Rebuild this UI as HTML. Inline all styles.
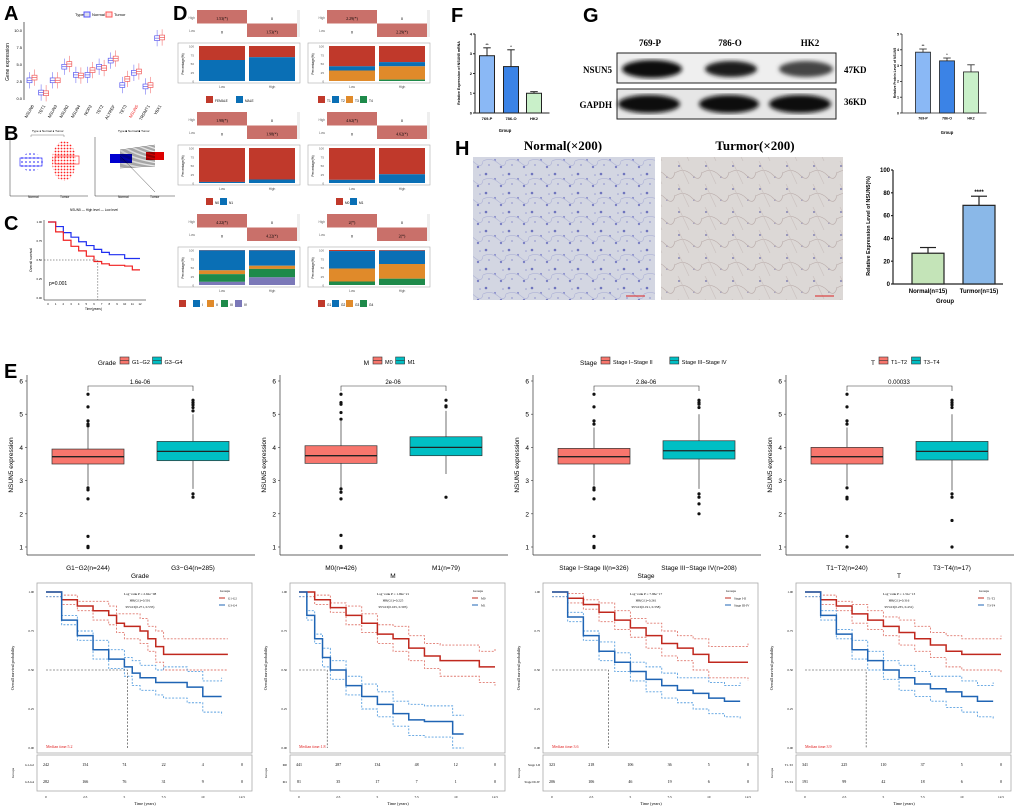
<!DOCTYPE html>
<html><head><meta charset="utf-8">
<style>
html,body{margin:0;padding:0;background:#fff;}
svg{display:block;font-family:"Liberation Sans",sans-serif;}
.serif{font-family:"Liberation Serif",serif;}
</style></head>
<body>
<svg id="fig" width="1020" height="810" viewBox="0 0 1020 810" xmlns="http://www.w3.org/2000/svg">
<defs>
<filter id="blur1"><feGaussianBlur stdDeviation="2.2"/></filter>
<pattern id="normTex" width="23" height="19" patternUnits="userSpaceOnUse">
<rect width="23" height="19" fill="#d3d6e2"/>
<circle cx="3" cy="3" r="1.3" fill="#6f74bd"/><circle cx="12" cy="8" r="1.1" fill="#8a8fcc"/>
<circle cx="18" cy="15" r="1.2" fill="#7b80c4"/><circle cx="6" cy="13" r="0.9" fill="#9a9ed2"/>
<circle cx="20" cy="4" r="0.8" fill="#9a9ed2"/>
<path d="M0 9 Q8 5 15 11 T23 9" stroke="#b4b8d8" fill="none" stroke-width="0.8"/>
</pattern>
<pattern id="tumTex" width="27" height="23" patternUnits="userSpaceOnUse">
<rect width="27" height="23" fill="#dcd8d6"/>
<circle cx="4" cy="5" r="0.9" fill="#6a6aaa"/><circle cx="19" cy="16" r="0.8" fill="#7070b0"/>
<path d="M0 12 Q9 6 17 14 T27 11" stroke="#bdb0ae" fill="none" stroke-width="0.7"/>
<path d="M3 0 Q8 10 14 23" stroke="#cbc2c0" fill="none" stroke-width="0.7"/>
</pattern>
<pattern id="dotsBlue" width="4" height="4" patternUnits="userSpaceOnUse"><circle cx="2" cy="2" r="0.9" fill="#4a4af5"/></pattern>
<pattern id="dotsRed" width="3" height="3" patternUnits="userSpaceOnUse"><circle cx="1.5" cy="1.5" r="0.9" fill="#f22"/></pattern>
</defs>
<g id="panelA"></g>
<g id="panelB"></g>
<g id="panelC"></g>
<g id="panelD"></g>
<g id="panelF"></g>
<g id="panelG">
 <text x="583" y="22" font-size="20" font-weight="bold">G</text>
 <g class="serif" font-weight="bold" font-size="9">
 <text x="650" y="46" text-anchor="middle">769-P</text>
 <text x="730" y="46" text-anchor="middle">786-O</text>
 <text x="810" y="46" text-anchor="middle">HK2</text>
 <text x="612" y="73" text-anchor="end">NSUN5</text>
 <text x="612" y="108" text-anchor="end">GAPDH</text>
 <text x="844" y="73">47KD</text>
 <text x="844" y="105">36KD</text>
 </g>
 <rect x="617" y="53" width="219" height="30" fill="#efefef" stroke="#222"/>
 <g filter="url(#blur1)">
 <ellipse cx="652" cy="69" rx="30" ry="9" fill="#111"/><ellipse cx="731" cy="69" rx="26" ry="8" fill="#1a1a1a"/><ellipse cx="806" cy="69" rx="27" ry="8" fill="#444"/>
 <ellipse cx="652" cy="89" rx="0" ry="0" fill="#000"/>
 </g>
 <rect x="617" y="89" width="219" height="30" fill="#e6e6e6" stroke="#222"/>
 <g filter="url(#blur1)">
 <ellipse cx="649" cy="104" rx="31" ry="9" fill="#0a0a0a"/><ellipse cx="729" cy="104" rx="30" ry="9" fill="#0a0a0a"/><ellipse cx="800" cy="104" rx="31" ry="9" fill="#0a0a0a"/>
 </g>
</g>
<g id="panelH">
 <text x="455" y="155" font-size="20" font-weight="bold">H</text>
 <text x="563" y="150" class="serif" font-size="13" font-weight="bold" text-anchor="middle">Normal(×200)</text>
 <text x="755" y="150" class="serif" font-size="13" font-weight="bold" text-anchor="middle">Turmor(×200)</text>
 <rect x="473" y="157" width="182" height="143" fill="url(#normTex)"/>
 <rect x="661" y="157" width="182" height="143" fill="url(#tumTex)"/>
 <line x1="626" y1="296" x2="645" y2="296" stroke="#d22"/>
 <line x1="815" y1="296" x2="834" y2="296" stroke="#d22"/>
</g>
<g id="panelE">
 <text x="4" y="378" font-size="20" font-weight="bold">E</text>
</g>
<g id="panelKM"></g>
</svg>
<script>
// ---------- DATA ----------
const aGenes=["NSUN6","TET1","NSUN3","NSUN2","NSUN4","NOP2","TET2","ALYREF","TET3","NSUN5","TRDMT1","YBX1"];
const aNormal=[2.6,0.8,2.6,4.6,3.4,3.4,4.6,5.5,1.9,3.7,1.7,8.8];
const aTumor=[3.0,0.7,2.6,5.0,3.3,4.1,4.4,5.8,2.8,3.9,1.9,8.9];
const dTitles=[["FEMALE","MALE"],["T1","T2","T3","T4"],["N0","N1"],["M0","M1"],["","I","II","III","IV"],["G1","G2","G3","G4"]];
const dColors=[["#c0392b","#0a6fb5"],["#c0392b","#0a6fb5","#e08a2a","#1e8a4a"],["#c0392b","#0a6fb5"],["#c0392b","#0a6fb5"],["#c0392b","#0a6fb5","#e08a2a","#1e8a4a","#7b78b8"],["#c0392b","#0a6fb5","#e08a2a","#1e8a4a"]];
const dLow=[[40,60],[58,12,30,0],[97,3],[91,9],[1,57,11,22,9],[3,50,37,10]];
const dHigh=[[32,68],[46,12,38,4],[90,10],[75,25],[1,44,9,24,22],[2,38,42,18]];
const dStat=["1.53(*)","2.29(*)","1.98(*)","4.62(*)","4.22(*)","2(*)"];
const fGroups=["769-P","786-O","HK2"], fValues=[2.9,2.35,1.0], fErr=[0.4,0.85,0.08];
const gGroups=["769-P","786-O","HK2"], gValues=[3.85,3.3,2.6], gErr=[0.2,0.18,0.45];
const hGroups=["Normal(n=15)","Turmor(n=15)"], hValues=[27,69], hErr=[5,8];
const cTimes=[0,1,2,3,4,5,6,7,8,9,10,11,12];
const cHigh=[1,0.87,0.76,0.68,0.62,0.55,0.48,0.45,0.43,0.43,0.42,0.37,0.37];
const cLow=[1,0.94,0.86,0.80,0.74,0.69,0.64,0.60,0.57,0.57,0.52,0.52,0.52];
const eTitles=["Grade","M","Stage","T"];
const eGroups=[["G1−G2","G3−G4"],["M0","M1"],["Stage I−Stage II","Stage III−Stage IV"],["T1−T2","T3−T4"]];
const eN=[[244,285],[426,79],[326,208],[240,17]];
const eStatsA=[[3.5,3.72,3.95,2.85,4.6],[3.52,3.75,4.05,2.8,4.8],[3.5,3.72,3.97,2.85,4.6],[3.5,3.72,4.0,2.85,4.6]];
const eStatsB=[[3.6,3.88,4.18,2.75,5.0],[3.75,4.0,4.32,3.2,5.1],[3.65,3.9,4.2,2.75,5.0],[3.62,3.88,4.18,2.7,5.0]];
const eOutA=[[5.6,5.22,4.8,4.7,4.65,2.78,2.72,2.45,1.32,1.02,0.98],[5.6,5.35,5.3,5.05,4.85,2.75,2.65,2.45,1.35,1.02,0.98],[5.6,5.22,4.8,4.7,2.78,2.72,2.45,1.32,1.02,0.98],[5.6,5.22,4.8,4.7,2.78,2.5,2.45,1.32,1.0]];
const eOutB=[[5.42,5.35,5.28,5.2,5.1,2.6,2.5],[5.42,5.25,5.22,2.5],[5.42,5.35,5.3,5.2,2.6,2.5,2.3,2.0],[5.42,5.35,5.28,5.2,2.6,2.5,1.8,1.0]];
const ePvals=["1.6e-06","2e-06","2.8e-06","0.00033"];
const kmNames=[["G1-G2","G3-G4"],["M0","M1"],["Stage I-II","Stage III-IV"],["T1-T2","T3-T4"]];
const kmTimesA=[[0,1,2,3,4,4.5,5,6,6.5,7,7.5,11.6],[0,1,2,3,4,5,6,7,8,9,10,11.5,12.5],[0,1,2,3,4,5,6,7,8,9,10,11.6,12.5],[0,1,2,3,4,5,6,7,8,9,10,11.6,12.5]];
const kmSurvA=[[1,0.95,0.91,0.88,0.85,0.80,0.78,0.75,0.70,0.65,0.60,0.60],[1,0.95,0.90,0.85,0.80,0.73,0.70,0.64,0.59,0.56,0.56,0.52,0.52],[1,0.96,0.92,0.87,0.82,0.77,0.72,0.67,0.64,0.60,0.55,0.55,0.55],[1,0.95,0.91,0.86,0.82,0.78,0.74,0.70,0.66,0.62,0.60,0.60,0.60]];
const kmTimesB=[[0,1,2,3,4,5,5.5,6,7,7.5,9,10,11.2],[0,0.5,1,1.5,2,3,4,5,6,7,8,9,9.8,10.5],[0,1,2,3,4,5,6,7,8,9,10,11,12],[0,1,2,3,4,5,6,7,8,9,10,11,12]];
const kmSurvB=[[1,0.82,0.72,0.63,0.57,0.52,0.48,0.45,0.42,0.42,0.39,0.33,0.33],[1,0.85,0.70,0.58,0.50,0.40,0.33,0.28,0.22,0.18,0.17,0.17,0.09,0.09],[1,0.84,0.72,0.62,0.55,0.49,0.44,0.40,0.37,0.35,0.32,0.30,0.30],[1,0.85,0.73,0.63,0.56,0.50,0.45,0.41,0.38,0.36,0.33,0.30,0.30]];
const kmCIWidth=[[0.03,0.06,0.08,0.10,0.12],[0.03,0.06,0.08,0.10,0.12],[0.03,0.06,0.08,0.10,0.12],[0.03,0.06,0.08,0.10,0.12]];
const kmRiskA=[[242,154,74,22,4,0],[441,287,134,48,12,0],[323,218,106,36,5,0],[341,225,110,37,5,0]];
const kmRiskB=[[282,166,76,31,9,0],[81,35,17,7,1,0],[206,106,46,19,6,0],[191,99,42,18,6,0]];
const kmStats=[["Log−rank P = 2.62e−08","HR(G1)=0.501","95%CI(0.271, 0.535)"],["Log−rank P = 1.69e−21","HR(G1)=0.225","95%CI(0.165, 0.305)"],["Log−rank P = 7.96e−17","HR(G1)=0.261","95%CI(0.191, 0.358)"],["Log−rank P = 1.31e−13","HR(G1)=0.316","95%CI(0.235, 0.431)"]];
const kmMedian=["5.2","1.8","3.6","3.9"];
const riskTicks=["0","2.5","5","7.5","10","12.5"];

// ---------- helpers ----------
const NS="http://www.w3.org/2000/svg";
function mk(tag,parent,attrs){const e=document.createElementNS(NS,tag);for(const k in attrs)e.setAttribute(k,attrs[k]);parent.appendChild(e);return e;}
function txt(parent,x,y,s,size,attrs){const e=mk("text",parent,Object.assign({x:x,y:y,"font-size":size},attrs||{}));e.textContent=s;return e;}
function lin(a,b,c,d){return v=>c+(v-a)*(d-c)/(b-a);}
function stepPath(ts,ss,sx,sy){let d="M"+sx(ts[0])+" "+sy(ss[0]);for(let i=1;i<ts.length;i++){d+=" H"+sx(ts[i])+" V"+sy(ss[i]);}return d;}

// ---------- Panel A ----------
(function(){
 const g=document.getElementById("panelA");
 txt(g,4,20,"A",20,{"font-weight":"bold"});
 const sx=i=>32+i*11.6, sy=lin(0,10,98,30);
 mk("line",g,{x1:24,y1:22,x2:24,y2:100,stroke:"#000","stroke-width":0.6});
 [0,2.5,5,7.5,10].forEach(v=>{txt(g,22,sy(v)+2,v.toFixed(1),4,{"text-anchor":"end"});});
 txt(g,9,62,"Gene expression",5,{transform:"rotate(-90 9 62)","text-anchor":"middle"});
 txt(g,75,16,"Type",4);
 mk("rect",g,{x:84,y:12,width:6,height:5,fill:"#dde",stroke:"#55f"});txt(g,92,16,"Normal",4);
 mk("rect",g,{x:106,y:12,width:6,height:5,fill:"#fdd",stroke:"#f55"});txt(g,114,16,"Tumor",4);
 aGenes.forEach((gn,i)=>{
  [[aNormal[i],"#5a5af0",-2.5],[aTumor[i],"#f05a5a",2.5]].forEach(([m,c,o])=>{
   mk("line",g,{x1:sx(i)+o,y1:sy(m+1.2),x2:sx(i)+o,y2:sy(m-1.2),stroke:c,"stroke-width":0.5});
   const b=mk("rect",g,{x:sx(i)+o-2.5,y:sy(m+0.35),width:5,height:sy(m-0.35)-sy(m+0.35),fill:"#fff",stroke:c,"stroke-width":0.7});
   
   
   mk("line",g,{x1:sx(i)+o-2.5,y1:sy(m),x2:sx(i)+o+2.5,y2:sy(m),stroke:c,"stroke-width":0.7});
  });
  txt(g,sx(i)+2,106,gn,4.2,{transform:"rotate(-60 "+(sx(i)+2)+" 106)","text-anchor":"end",fill:gn==="NSUN5"?"#e22":"#000"});
 });
})();

// ---------- Panel B ----------
(function(){
 const g=document.getElementById("panelB");
 txt(g,4,140,"B",20,{"font-weight":"bold"});
 // left scatter
 mk("line",g,{x1:10,y1:137,x2:10,y2:196,stroke:"#333","stroke-width":0.5});
 mk("line",g,{x1:10,y1:196,x2:88,y2:196,stroke:"#333","stroke-width":0.5});
 mk("ellipse",g,{cx:31,cy:162,rx:12,ry:9,fill:"url(#dotsBlue)"});
 mk("ellipse",g,{cx:64,cy:161,rx:12,ry:20,fill:"url(#dotsRed)"});
 mk("rect",g,{x:20,y:158,width:22,height:8,fill:"none",stroke:"#33f","stroke-width":0.7});
 mk("rect",g,{x:55,y:156,width:24,height:8,fill:"none",stroke:"#f33","stroke-width":0.7});
 mk("path",g,{d:"M31 137 V135 H64 V137",fill:"none",stroke:"#555","stroke-width":0.4});
 txt(g,28,198,"Normal",3.3);txt(g,60,198,"Tumor",3.3);
 txt(g,32,132,"Type ● Normal ● Tumor",3);
 // right paired
 mk("line",g,{x1:95,y1:137,x2:95,y2:196,stroke:"#333","stroke-width":0.5});
 mk("line",g,{x1:95,y1:196,x2:175,y2:196,stroke:"#333","stroke-width":0.5});
 mk("rect",g,{x:110,y:154,width:22,height:9,fill:"#0000d0"});
 mk("rect",g,{x:146,y:152,width:18,height:8,fill:"#d00"});
 for(let i=0;i<16;i++)mk("line",g,{x1:120,y1:150+i*1.2,x2:155,y2:145+i*1.4,stroke:"#000","stroke-width":0.35});
 mk("line",g,{x1:120,y1:156,x2:155,y2:192,stroke:"#000","stroke-width":0.35});
 txt(g,118,198,"Normal",3.3);txt(g,150,198,"Tumor",3.3);
 txt(g,118,132,"Type ■ Normal ■ Tumor",3);
})();

// ---------- Panel C ----------
(function(){
 const g=document.getElementById("panelC");
 txt(g,4,230,"C",20,{"font-weight":"bold"});
 const sx=lin(0,12,48,140), sy=lin(0,1,298,222);
 mk("line",g,{x1:44,y1:220,x2:44,y2:300,stroke:"#000","stroke-width":0.5});
 mk("line",g,{x1:44,y1:300,x2:146,y2:300,stroke:"#000","stroke-width":0.5});
 [0,0.25,0.5,0.75,1].forEach(v=>txt(g,42,sy(v)+1,v.toFixed(2),2.8,{"text-anchor":"end"}));
 for(let t=0;t<=12;t++)txt(g,sx(t),305,String(t),2.8,{"text-anchor":"middle"});
 txt(g,70,211,"NSUN5 — High level — Low level",3.2);
 const p1=mk("path",g,{d:stepPath(cTimes,cLow,sx,sy),fill:"none",stroke:"#1f2ff0","stroke-width":1.2});
 
 
 const p2=mk("path",g,{d:stepPath(cTimes,cHigh,sx,sy),fill:"none",stroke:"#f01f1f","stroke-width":1.2});
 
 
 mk("path",g,{d:"M44 "+sy(0.5)+" H"+sx(6.5)+" V300",fill:"none",stroke:"#333","stroke-dasharray":"1.5 1.5","stroke-width":0.5});
 txt(g,49,285,"p=0.001",5);
 txt(g,85,310,"Time(years)",3.2);
 txt(g,32,260,"Overall survival",3.5,{transform:"rotate(-90 32 260)","text-anchor":"middle"});
})();

// ---------- Panel D ----------
(function(){
 const g=document.getElementById("panelD");
 txt(g,173,20,"D",20,{"font-weight":"bold"});
 for(let p=0;p<6;p++){
  const ox=(p%2)*130, oy=Math.floor(p/2)*102;
  const tx=ox+197, ty=oy+10;
  mk("rect",g,{x:tx,y:ty,width:103,height:27,fill:"#eee"});
  const c1=mk("rect",g,{x:tx,y:ty,width:50,height:13.5,fill:"#c9706a"});
  
  
  mk("rect",g,{x:tx+50,y:ty,width:50,height:13.5,fill:"#fff"});
  mk("rect",g,{x:tx,y:ty+13.5,width:50,height:13.5,fill:"#fff"});
  mk("rect",g,{x:tx+50,y:ty+13.5,width:50,height:13.5,fill:"#c9706a"});
  txt(g,tx+25,ty+10,dStat[p],4,{"text-anchor":"middle","class":"serif"});
  txt(g,tx+75,ty+10,"0",4,{"text-anchor":"middle"});
  txt(g,tx+25,ty+23.5,"0",4,{"text-anchor":"middle"});
  txt(g,tx+75,ty+23.5,dStat[p],4,{"text-anchor":"middle","class":"serif"});
  txt(g,tx-2,ty+9,"High",3.2,{"text-anchor":"end",fill:"#666"});txt(g,tx-2,ty+22,"Low",3.2,{"text-anchor":"end",fill:"#666"});
  mk("rect",g,{x:ox+178,y:oy+43,width:122,height:40,fill:"#fff",stroke:"#aaa","stroke-width":0.6});
  const sy=lin(0,100,oy+81,oy+46);
  [0,25,50,75,100].forEach(v=>txt(g,ox+194,sy(v)+1.5,String(v),3,{"text-anchor":"end",fill:"#555"}));
  txt(g,ox+184,oy+64,"Percentage(%)",3.2,{transform:"rotate(-90 "+(ox+184)+" "+(oy+64)+")","text-anchor":"middle"});
  [[dLow[p],ox+199,"Low"],[dHigh[p],ox+249,"High"]].forEach(([vals,bx,lab])=>{
   let acc=100;
   vals.forEach((v,i)=>{ if(v<=0)return;
    const r=mk("rect",g,{x:bx,y:sy(acc),width:46,height:sy(acc-v)-sy(acc),fill:dColors[p][i]});
    
    
    acc-=v;});
   txt(g,bx+23,oy+88,lab,3.2,{"text-anchor":"middle","fill":"#555"});
  });
  const n=dTitles[p].length; let lx=ox+224-n*9;
  dTitles[p].forEach((t,i)=>{mk("rect",g,{x:lx,y:oy+96,width:7,height:7,fill:dColors[p][i]});txt(g,lx+9,oy+102,t,3.2);lx+=t.length>3?30:14;});
 }
})();

// ---------- bar charts ----------
function barChart(g,groups,vals,errs,stars,ax,ay0,ayTop,vmax,ticks,cx,bw,colors,fs,sw){
 const sy=lin(0,vmax,ay0,ayTop);
 mk("line",g,{x1:ax,y1:ay0,x2:ax,y2:ayTop,stroke:"#222","stroke-width":sw});
 mk("line",g,{x1:ax,y1:ay0,x2:cx[cx.length-1]+bw/2+8,y2:ay0,stroke:"#222","stroke-width":sw});
 ticks.forEach(v=>{mk("line",g,{x1:ax-2,y1:sy(v),x2:ax,y2:sy(v),stroke:"#222","stroke-width":sw});txt(g,ax-3,sy(v)+fs*0.35,String(v),fs,{"text-anchor":"end","font-weight":"bold"});});
 groups.forEach((gr,i)=>{
  const b=mk("rect",g,{x:cx[i]-bw/2,y:sy(vals[i]),width:bw,height:ay0-sy(vals[i]),fill:colors[i],stroke:"#222","stroke-width":sw});
  
  
  mk("line",g,{x1:cx[i],y1:sy(vals[i]),x2:cx[i],y2:sy(vals[i]+errs[i]),stroke:"#222","stroke-width":sw});
  mk("line",g,{x1:cx[i]-bw/4,y1:sy(vals[i]+errs[i]),x2:cx[i]+bw/4,y2:sy(vals[i]+errs[i]),stroke:"#222","stroke-width":sw});
  if(stars[i])txt(g,cx[i],sy(vals[i]+errs[i])-2,stars[i],fs,{"text-anchor":"middle","font-weight":"bold"});
  txt(g,cx[i],ay0+fs+3,gr,fs,{"text-anchor":"middle","font-weight":"bold"});
 });
}
(function(){
 const g=document.getElementById("panelF");
 txt(g,451,22,"F",20,{"font-weight":"bold"});
 barChart(g,fGroups,fValues,fErr,["**","*",""],475,113,34,4,[0,1,2,3,4],[487,511,534],15,["#8ab8f5","#3b83e6","#c9f0c9"],4,1);
 txt(g,505,132,"Group",4.2,{"text-anchor":"middle","font-weight":"bold"});
 txt(g,460,73,"Relative Expression of NSUN5 mRNA",3.6,{transform:"rotate(-90 460 73)","text-anchor":"middle","font-weight":"bold"});
 const g2=document.getElementById("panelG");
 barChart(g2,gGroups,gValues,gErr,["**","*",""],902,113,34,5,[0,1,2,3,4,5],[923,947,971],15,["#8ab8f5","#3b83e6","#c9f0c9"],3.6,0.8);
 txt(g2,947,134,"Group",4.2,{"text-anchor":"middle","font-weight":"bold"});
 txt(g2,896,73,"Relative Protein Level of NSUN5",3.3,{transform:"rotate(-90 896 73)","text-anchor":"middle","font-weight":"bold"});
 const g3=document.getElementById("panelH");
 barChart(g3,hGroups,hValues,hErr,["","****"],893,284,170,100,[0,20,40,60,80,100],[928,979],32,["#c4e4b8","#8ab8e8"],6,1.2);
 txt(g3,945,303,"Group",6,{"text-anchor":"middle","font-weight":"bold"});
 txt(g3,870,226,"Relative Expression Level of NSUN5(%)",5.3,{transform:"rotate(-90 870 226)","text-anchor":"middle","font-weight":"bold"});
})();

// ---------- Panel E boxplots ----------
(function(){
 const g=document.getElementById("panelE");
 const sy=lin(1,6,547,381);
 for(let p=0;p<4;p++){
  const ox=p*253;
  const gp=mk("g",g,{});
  
  
  const lg=ox+(p===2?95:120);
  txt(gp,lg-4,365,eTitles[p],6.5,{"text-anchor":"end"});
  let lx=lg;
  [["#F8766D",eGroups[p][0]],["#00BFC4",eGroups[p][1]]].forEach(([c,t])=>{
   mk("rect",gp,{x:lx,y:357,width:9,height:7,fill:c,stroke:"#333","stroke-width":0.6});
   mk("line",gp,{x1:lx,y1:360.5,x2:lx+9,y2:360.5,stroke:"#333","stroke-width":0.6});
   txt(gp,lx+12,364,t,5.5);lx+=16+t.length*3.3;});
  mk("line",gp,{x1:ox+27,y1:375,x2:ox+27,y2:555,stroke:"#333","stroke-width":0.7});
  mk("line",gp,{x1:ox+27,y1:555,x2:ox+255,y2:555,stroke:"#333","stroke-width":0.7});
  [1,2,3,4,5,6].forEach(v=>{mk("line",gp,{x1:ox+25,y1:sy(v),x2:ox+27,y2:sy(v),stroke:"#333","stroke-width":0.6});txt(gp,ox+23,sy(v)+2.5,String(v),6.5,{"text-anchor":"end"});});
  txt(gp,ox+13,465,"NSUN5  expression",6.5,{transform:"rotate(-90 "+(ox+13)+" 465)","text-anchor":"middle"});
  const cx=[ox+88,ox+193];
  [[eStatsA[p],eOutA[p],"#F8766D"],[eStatsB[p],eOutB[p],"#00BFC4"]].forEach(([s,o,c],i)=>{
   mk("line",gp,{x1:cx[i],y1:sy(s[4]),x2:cx[i],y2:sy(s[3]),stroke:"#333","stroke-width":0.7});
   const b=mk("rect",gp,{x:cx[i]-36,y:sy(s[2]),width:72,height:sy(s[0])-sy(s[2]),fill:c,stroke:"#333","stroke-width":0.7});
   
   
   mk("line",gp,{x1:cx[i]-36,y1:sy(s[1]),x2:cx[i]+36,y2:sy(s[1]),stroke:"#222","stroke-width":1.3});
   o.forEach(v=>mk("circle",gp,{cx:cx[i],cy:sy(v),r:1.6,fill:"#111"}));
   txt(gp,cx[i],570,eGroups[p][i]+"(n="+eN[p][i]+")",6.5,{"text-anchor":"middle"});
  });
  txt(gp,ox+140,578,eTitles[p],6.5,{"text-anchor":"middle"});
  mk("path",gp,{d:"M"+cx[0]+" 391 V386 H"+cx[1]+" V391",fill:"none",stroke:"#333","stroke-width":0.6});
  txt(gp,ox+140,384,ePvals[p],6,{"text-anchor":"middle"});
 }
})();

// ---------- Survival panels ----------
(function(){
 const g=document.getElementById("panelKM");
 const sy=lin(0,1,748,592);
 for(let p=0;p<4;p++){
  const ox=p*253;
  const gp=mk("g",g,{"class":"serif"});
  
  
  const sx=lin(0,12.5,ox+46,ox+242);
  mk("rect",gp,{x:ox+37,y:583,width:215,height:170,fill:"#fff",stroke:"#aaa","stroke-width":0.8});
  mk("rect",gp,{x:ox+37,y:755,width:215,height:36,fill:"#fff",stroke:"#aaa","stroke-width":0.8});
  [0,0.25,0.5,0.75,1].forEach(v=>txt(gp,ox+34,sy(v)+1,v.toFixed(2),3.2,{"text-anchor":"end"}));
  txt(gp,ox+14,668,"Overall survival probability",4,{transform:"rotate(-90 "+(ox+14)+" 668)","text-anchor":"middle"});
  txt(gp,ox+14,773,"Groups",3.5,{transform:"rotate(-90 "+(ox+14)+" 773)","text-anchor":"middle"});
  const series=[[kmTimesA[p],kmSurvA[p],"#c0281e","#e07a70"],[kmTimesB[p],kmSurvB[p],"#1f64b4","#5aa0e0"]];
  series.forEach(([ts,ss,c,cl],i)=>{
   const w=kmCIWidth[p];
   const up=ss.map((v,j)=>Math.min(1,v+w[Math.min(4,Math.floor(j/3))]));
   const lo=ss.map((v,j)=>Math.max(0,v-w[Math.min(4,Math.floor(j/3))]));
   mk("path",gp,{d:stepPath(ts,up,sx,sy),fill:"none",stroke:cl,"stroke-width":0.9,"stroke-dasharray":"2 1.5"});
   mk("path",gp,{d:stepPath(ts,lo,sx,sy),fill:"none",stroke:cl,"stroke-width":0.9,"stroke-dasharray":"2 1.5"});
   const l=mk("path",gp,{d:stepPath(ts,ss,sx,sy),fill:"none",stroke:c,"stroke-width":1.5});
   
   
  });
  const med=parseFloat(kmMedian[p]);
  mk("path",gp,{d:"M"+sx(0)+" "+sy(0.5)+" H"+sx(med)+" V"+sy(0),fill:"none",stroke:"#333","stroke-width":0.6,"stroke-dasharray":"2 1.5"});
  txt(gp,ox+46,748,"Median time:"+kmMedian[p],4,{fill:"#e02020"});
  kmStats[p].forEach((s,j)=>txt(gp,ox+140,595+j*6.5,s,3.4,{"text-anchor":"middle"}));
  txt(gp,ox+220,592,"Groups",3.4);
  [["#c0281e",kmNames[p][0],598],["#1f64b4",kmNames[p][1],605]].forEach(([c,t,y])=>{mk("line",gp,{x1:ox+219,y1:y,x2:ox+225,y2:y,stroke:c,"stroke-width":1});txt(gp,ox+228,y+1.3,t,3.2);});
  riskTicks.forEach((t,j)=>{
   const x=sx(parseFloat(t));
   txt(gp,x,766,String(kmRiskA[p][j]),4,{"text-anchor":"middle"});
   txt(gp,x,783,String(kmRiskB[p][j]),4,{"text-anchor":"middle"});
   txt(gp,x,798,t,3.4,{"text-anchor":"middle"});
  });
  txt(gp,ox+34,766,kmNames[p][0],3.2,{"text-anchor":"end"});
  txt(gp,ox+34,783,kmNames[p][1],3.2,{"text-anchor":"end"});
  txt(gp,ox+145,805,"Time (years)",4.2,{"text-anchor":"middle"});
 }
})();
</script>
</body></html>
